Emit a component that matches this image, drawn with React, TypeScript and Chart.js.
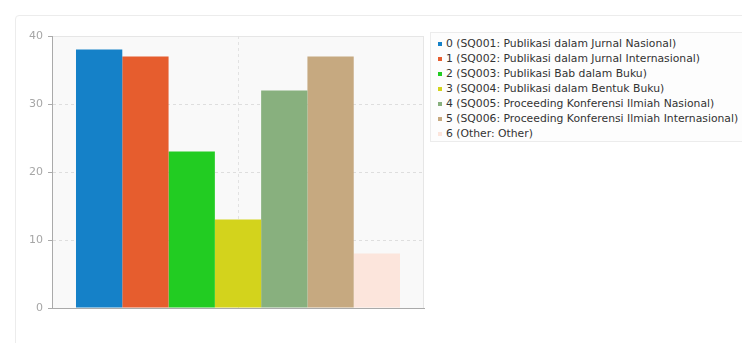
import React, { useEffect, useRef } from "react";
import { Chart, registerables } from "chart.js";

Chart.register(...registerables);

// Response counts per publication type
const seriesLabels = [
  "0 (SQ001: Publikasi dalam Jurnal Nasional)",
  "1 (SQ002: Publikasi dalam Jurnal Internasional)",
  "2 (SQ003: Publikasi Bab dalam Buku)",
  "3 (SQ004: Publikasi dalam Bentuk Buku)",
  "4 (SQ005: Proceeding Konferensi Ilmiah Nasional)",
  "5 (SQ006: Proceeding Konferensi Ilmiah Internasional)",
  "6 (Other: Other)",
];
const seriesValues = [38, 37, 23, 13, 32, 37, 8];
const seriesColors = [
  "#1581c8",
  "#e65d2e",
  "#22cc22",
  "#d3d31c",
  "#88b07e",
  "#c6a980",
  "#fce5dc",
];
const yTicks = [0, 10, 20, 30, 40];

const FONT = "'DejaVu Sans', Verdana, sans-serif";

const plotBackground = {
  id: "plotBackground",
  beforeDraw(chart: any) {
    const { ctx, chartArea } = chart;
    if (!chartArea) return;
    ctx.save();
    ctx.fillStyle = "#f9f9f9";
    ctx.fillRect(chartArea.left, chartArea.top, chartArea.right - chartArea.left, chartArea.bottom - chartArea.top);
    ctx.strokeStyle = "#e6e6e6";
    ctx.lineWidth = 1;
    ctx.strokeRect(chartArea.left + 0.5, chartArea.top + 0.5, chartArea.right - chartArea.left - 1, chartArea.bottom - chartArea.top);
    ctx.restore();
  },
};

function BarChart() {
  const ref = useRef<HTMLCanvasElement>(null);
  useEffect(() => {
    if (!ref.current) return;
    const chart = new Chart(ref.current, {
      type: "bar",
      data: {
        labels: [""],
        datasets: seriesLabels.map((label, i) => ({
          label,
          data: [seriesValues[i]],
          backgroundColor: seriesColors[i],
          borderWidth: 0,
          barPercentage: 1,
          categoryPercentage: 0.871,
        })),
      },
      options: {
        animation: false,
        responsive: false,
        maintainAspectRatio: false,
        layout: { padding: { left: 0, top: 36, right: 16, bottom: 35 } },
        plugins: { legend: { display: false }, tooltip: { enabled: false } },
        scales: {
          x: {
            ticks: { display: false },
            grid: {
              offset: false,
              drawTicks: false,
              color: "#e2e2e2",
            },
            border: { display: true, color: "#aaaaaa", width: 1, dash: [3, 3] },
            afterFit: (s: any) => {
              s.height = 0;
            },
          },
          y: {
            min: 0,
            max: 40,
            afterBuildTicks: (s: any) => {
              s.ticks = yTicks.map((v) => ({ value: v }));
            },
            ticks: {
              color: "#a6a6a6",
              font: { family: FONT, size: 11 },
              padding: 5,
            },
            grid: {
              color: (c: any) => (c.tick && (c.tick.value === 0 || c.tick.value === 40) ? "rgba(0,0,0,0)" : "#dedede"),
              tickColor: "#aaaaaa",
              tickLength: 4,
              tickBorderDash: [],
            },
            border: { display: true, color: "#aaaaaa", width: 1, dash: [3, 3] },
            afterFit: (s: any) => {
              s.width = 52;
            },
          },
        },
      },
      plugins: [plotBackground],
    } as any);
    return () => chart.destroy();
  }, []);
  return (
    <canvas
      ref={ref}
      width={440}
      height={343}
      style={{ position: "absolute", left: 0, top: 0, width: 440, height: 343 }}
    />
  );
}

export default function App() {
  return (
    <div
      style={{
        position: "fixed",
        left: 0,
        top: 0,
        width: 742,
        height: 343,
        background: "#ffffff",
        overflow: "hidden",
        fontFamily: FONT,
      }}
    >
      <div
        style={{
          position: "absolute",
          left: 15,
          top: 15,
          width: 800,
          height: 400,
          border: "1px solid #ececec",
          borderRadius: 4,
        }}
      />
      <BarChart />
      <div
        style={{
          position: "absolute",
          left: 430,
          top: 32,
          width: 330,
          height: 110,
          border: "1px solid #ececec",
          background: "#fdfdfd",
          boxSizing: "border-box",
          paddingTop: 3,
          paddingLeft: 7,
        }}
      >
        {seriesLabels.map((label, i) => (
          <div
            key={label}
            style={{
              display: "flex",
              alignItems: "center",
              height: 15,
              fontSize: 10.8,
              color: "#333333",
              whiteSpace: "nowrap",
            }}
          >
            <span
              style={{
                display: "inline-block",
                width: 4,
                height: 4,
                background: seriesColors[i],
                marginRight: 4,
              }}
            />
            {label}
          </div>
        ))}
      </div>
    </div>
  );
}
